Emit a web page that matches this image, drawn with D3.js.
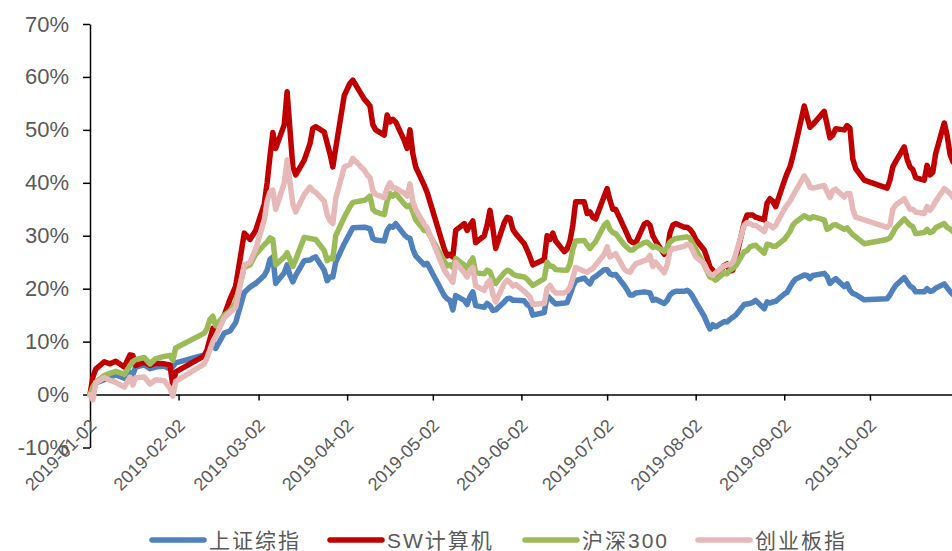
<!DOCTYPE html>
<html>
<head>
<meta charset="utf-8">
<script src="https://cdn.jsdelivr.net/npm/d3@7"></script>
<style>
  html, body { margin: 0; padding: 0; background: #fff; }
  svg { display: block; }
  text { font-family: "Liberation Sans", Arial, "Noto Sans CJK SC", sans-serif; fill: #595959; }
</style>
</head>
<body>
<svg id="chart" width="952" height="551"></svg>
<script>
// Trading days of 2019 (month-day), cumulative return in % since 2019-01-02
const dates = [
  "01-02","01-03","01-04","01-07","01-09","01-11","01-14","01-16","01-17","01-18","01-21","01-23","01-25","01-28","01-30","01-31",
  "02-01","02-11","02-12","02-13","02-14","02-15","02-18","02-20","02-22","02-25","02-27",
  "03-01","03-04","03-05","03-06","03-07","03-08","03-11","03-12","03-13","03-14","03-15","03-18","03-20","03-21","03-22","03-25","03-26","03-27","03-28","03-29",
  "04-01","04-03","04-04","04-08","04-09","04-10","04-11","04-12","04-15","04-16","04-17","04-18","04-19","04-22","04-23","04-24","04-25","04-26","04-29","04-30",
  "05-06","05-07","05-08","05-09","05-10","05-13","05-14","05-15","05-16","05-17","05-20","05-21","05-22","05-23","05-24","05-27","05-28","05-29","05-30","05-31",
  "06-03","06-04","06-05","06-06","06-10","06-11","06-12","06-13","06-14","06-17","06-18","06-19","06-20","06-21","06-24","06-25","06-26","06-27","06-28",
  "07-01","07-02","07-03","07-04","07-05","07-08","07-09","07-10","07-11","07-12","07-15","07-16","07-17","07-18","07-19","07-22","07-23","07-24","07-25","07-26","07-29","07-30","07-31",
  "08-01","08-02","08-05","08-06","08-07","08-08","08-09","08-12","08-13","08-14","08-15","08-16","08-19","08-20","08-21","08-22","08-23","08-26","08-27","08-28","08-29","08-30",
  "09-02","09-03","09-04","09-05","09-06","09-09","09-10","09-11","09-12","09-16","09-17","09-18","09-19","09-20","09-23","09-24","09-25","09-26","09-27","09-30",
  "10-08","10-09","10-10","10-11","10-14","10-15","10-16","10-17","10-18","10-21","10-22","10-23","10-24","10-25","10-28","10-29","10-30","10-31"
];

// 上证综指
const sseComposite = [
  0, 0.2, 2.2, 2.8, 3.3, 3.7, 3.1, 4.2, 3.8, 5.2, 5.6, 4.9, 5.2, 5.4, 4.8, 5.3,
  6.0, 7.5, 8.2, 10.2, 10.1, 8.7, 11.6, 12.0, 13.6, 19.3, 20.3,
  21.0, 22.5, 23.5, 25.5, 26.0, 21.0, 23.0, 24.5, 22.5, 21.3, 22.5, 25.3, 25.4, 25.8, 26.0, 23.5, 21.5, 22.2, 22.2, 25.0,
  28.5, 30.5, 31.5, 31.6, 31.5, 31.3, 29.5, 29.2, 29.0, 31.0, 31.8, 31.6, 32.3, 30.2, 29.7, 29.5, 27.5, 26.2, 24.5, 24.8,
  18.7, 18.1, 17.8, 16.0, 18.7, 17.8, 17.0, 18.5, 19.4, 16.8, 16.5, 17.2, 16.8, 15.9, 16.0, 17.5, 18.1, 18.2, 17.8, 17.8,
  17.7, 17.0, 16.6, 15.0, 15.5, 18.7, 18.2, 17.6, 17.1, 17.3, 17.4, 18.8, 20.4, 21.5, 22.0, 21.4, 20.9, 22.0, 22.3,
  23.6, 23.6, 22.8, 22.6, 22.7, 20.6, 19.8, 18.8, 18.8, 19.2, 19.4, 19.3, 19.2, 17.8, 18.0, 17.2, 17.8, 18.8, 19.3, 19.5, 19.5, 19.7, 19.3,
  18.5, 17.5, 14.8, 13.5, 12.4, 13.2, 12.8, 13.8, 13.7, 14.2, 14.6, 15.0, 17.0, 17.1, 17.2, 17.4, 17.8, 16.2, 17.5, 17.3, 17.5, 17.6,
  19.0, 19.3, 20.3, 21.2, 21.8, 22.6, 22.5, 21.9, 22.5, 22.9, 22.3, 21.0, 21.5, 21.9, 20.4, 20.9, 19.7, 19.1, 18.9, 17.9,
  18.1, 18.8, 19.8, 20.6, 22.1, 21.3, 20.5, 20.2, 19.4, 19.4, 20.0, 19.5, 19.6, 20.1, 20.9, 20.2, 19.5, 18.9
];

// SW计算机
const swComputer = [
  0, 3.3, 4.8, 6.2, 5.8, 6.3, 5.2, 7.5, 7.4, 5.5, 6.1, 5.5, 5.9, 5.8, 5.6, 1.6,
  4.3, 7.3, 8.5, 10.5, 12.5, 12.0, 15.0, 18.0, 20.5, 30.5, 29.3,
  31.0, 36.0, 40.0, 45.0, 49.5, 46.5, 51.0, 57.2, 50.0, 43.0, 41.5, 44.3, 47.4, 50.3, 50.6, 49.6, 47.5, 45.5, 43.0, 46.5,
  56.5, 58.8, 59.4, 55.8, 55.2, 54.5, 51.0, 50.0, 49.0, 52.8, 51.5, 52.0, 51.5, 48.0, 46.5, 50.0, 45.5, 43.0, 39.5, 38.2,
  27.5, 26.2, 26.5, 26.0, 31.0, 32.3, 31.0, 32.0, 32.8, 28.7, 30.0, 32.0, 34.8, 31.5, 27.6, 32.5, 33.5, 33.3, 31.2, 30.4,
  28.5, 27.3, 26.0, 24.5, 25.5, 30.0, 29.3, 30.5, 29.0, 27.0, 27.5, 29.0, 32.0, 36.4, 36.4, 34.2, 34.5, 33.5, 33.2,
  37.5, 38.9, 36.7, 35.0, 35.0, 31.5, 30.3, 29.1, 28.7, 28.6, 32.2, 32.5, 32.0, 30.0, 29.0, 26.5, 27.0, 30.5, 32.0, 32.3, 31.6, 31.6, 31.2,
  30.5, 29.3, 27.3, 25.8, 24.1, 23.5, 22.0, 24.4, 24.7, 23.3, 23.5, 25.5, 32.5, 33.9, 33.9, 33.9, 33.5, 33.0, 36.2, 37.0, 36.5, 35.5,
  40.3, 41.8, 43.0, 45.0, 47.3, 54.5, 52.5, 50.5, 51.0, 53.5, 51.0, 48.5, 49.0, 50.2, 50.0, 50.8, 50.3, 44.5, 42.7, 40.5,
  39.0, 40.5, 43.0, 44.0, 46.8, 44.5, 43.0, 42.5, 41.0, 40.5, 43.3, 41.5, 42.0, 45.5, 51.3, 49.0, 45.5, 44.0
];

// 沪深300
const csi300 = [
  0, 1.4, 2.3, 3.6, 4.0, 4.4, 3.8, 5.5, 6.2, 6.6, 7.0, 5.8, 6.8, 7.2, 7.4, 6.5,
  8.8, 11.6, 12.5, 14.2, 14.8, 13.0, 15.0, 15.8, 17.5, 24.0, 24.5,
  26.5, 28.3, 28.8, 29.6, 29.3, 24.5, 26.0, 26.8, 25.5, 24.2, 25.5, 29.7, 29.5, 29.4, 29.3, 27.2, 25.3, 25.8, 25.6, 30.0,
  33.5, 35.5, 36.3, 36.7, 37.0, 37.5, 35.0, 34.5, 34.0, 36.5, 38.0, 37.5, 38.0, 36.0, 35.5, 35.8, 34.5, 33.0, 31.0, 31.0,
  25.2, 24.3, 24.5, 24.0, 25.7, 24.5, 23.5, 25.0, 25.8, 23.0, 22.8, 23.5, 23.2, 21.8, 21.0, 23.0, 23.5, 23.3, 22.8, 22.5,
  22.2, 21.8, 21.2, 20.6, 21.9, 25.0, 24.3, 24.2, 23.6, 23.5, 23.5, 24.7, 27.5, 29.0, 29.1, 28.3, 27.6, 28.3, 28.9,
  32.0, 32.5, 31.2, 30.6, 30.4, 28.3, 27.8, 27.3, 27.3, 27.8, 28.7, 28.8, 28.3, 27.8, 28.0, 27.0, 27.8, 28.8, 29.2, 29.5, 29.7, 29.8, 29.5,
  28.5, 27.5, 24.5, 23.3, 22.2, 22.0, 21.6, 23.0, 22.8, 23.5, 23.8, 24.3, 27.0, 27.2, 27.9, 28.1, 28.2, 26.7, 28.4, 28.3, 28.0, 28.0,
  29.3, 30.0, 30.8, 32.0, 32.6, 33.8, 33.5, 33.2, 33.6, 33.0, 31.2, 31.5, 32.0, 32.1, 31.2, 31.5, 30.8, 30.2, 29.8, 28.5,
  29.3, 29.6, 30.5, 31.5, 33.2, 32.6, 32.0, 31.7, 30.4, 30.6, 31.2, 30.6, 30.8, 31.5, 32.3, 31.6, 31.3, 30.8
];

// 创业板指
const chinext = [
  0, -1.0, 2.2, 3.2, 2.7, 2.3, 1.4, 3.3, 1.8, 3.2, 3.3, 2.0, 2.8, 2.6, 1.2, -0.3,
  2.5, 5.8, 7.0, 8.5, 10.0, 11.0, 14.5, 15.5, 16.5, 24.5, 25.0,
  27.5, 33.0, 36.5, 38.3, 38.6, 35.0, 40.0, 44.3, 40.0, 36.0, 34.5, 37.8, 39.2, 38.5, 38.2, 36.5, 34.0, 32.8, 32.3, 37.0,
  43.0, 43.5, 44.6, 42.4, 41.5, 41.0, 38.5, 37.8, 37.2, 39.0, 40.0, 39.0, 39.0, 38.0, 37.5, 39.8, 36.5, 35.0, 32.2, 31.5,
  23.5, 22.7, 22.0, 21.2, 25.0, 23.0, 22.2, 23.5, 24.0, 20.5, 19.7, 21.0, 21.6, 19.0, 17.5, 21.0, 21.6, 21.2, 20.5, 20.8,
  19.5, 19.0, 18.4, 17.0, 17.2, 20.0, 20.6, 19.8, 19.2, 19.2, 19.5, 20.3, 22.0, 24.0, 23.3, 23.1, 23.5, 23.8, 24.5,
  26.5, 27.9, 26.0, 26.3, 26.6, 23.7, 23.3, 23.1, 24.0, 24.7, 25.3, 25.5, 26.3, 24.2, 25.0, 23.0, 24.5, 27.0, 27.6, 27.6, 28.0, 28.4, 28.2,
  27.2, 26.0, 24.7, 23.5, 22.8, 22.5, 23.0, 24.3, 24.5, 24.5, 25.0, 26.5, 32.0, 32.5, 32.3, 32.0, 32.0, 30.8, 32.3, 32.0, 31.5, 32.0,
  35.0, 35.8, 36.5, 37.5, 38.5, 41.3, 40.5, 39.2, 39.0, 39.5, 38.3, 37.2, 38.5, 38.8, 37.3, 38.0, 38.0, 35.0, 33.5, 33.0,
  31.6, 32.0, 35.0, 35.8, 37.0, 36.0, 35.0, 35.0, 34.5, 34.2, 35.5, 34.8, 35.5, 36.5, 38.9, 38.5, 38.0, 37.3
];

const seriesNames = ["上证综指", "SW计算机", "沪深300", "创业板指"];
const seriesColors = ["#4F81BD", "#C00000", "#9BBB59", "#E6B9B8"];
const seriesValues = [sseComposite, swComputer, csi300, chinext];

const yTickValues = [-10, 0, 10, 20, 30, 40, 50, 60, 70];
const xTickLabels = ["2019-01-02", "2019-02-02", "2019-03-02", "2019-04-02", "2019-05-02",
                     "2019-06-02", "2019-07-02", "2019-08-02", "2019-09-02", "2019-10-02"];

const parse = d3.timeParse("%Y-%m-%d");
const parsedDates = dates.map(d => parse("2019-" + d));

const svg = d3.select("#chart");
svg.append("rect").attr("width", 952).attr("height", 551).attr("fill", "#fff");

const x = d3.scaleTime()
  .domain([parse("2019-01-02"), parse("2019-10-31")])
  .range([90, 952.8]);
const y = d3.scaleLinear().domain([-10, 70]).range([447.5, 24]);

// Y axis
const gy = svg.append("g")
  .attr("transform", "translate(90,0)")
  .call(d3.axisLeft(y)
    .tickValues(yTickValues)
    .tickSize(7)
    .tickSizeOuter(0)
    .tickPadding(14)
    .tickFormat(d => d + "%"));
gy.select(".domain").attr("stroke", "#000").attr("stroke-width", 1.5);
gy.selectAll(".tick line").attr("stroke", "#000").attr("stroke-width", 1.5);
gy.selectAll(".tick text").style("font-size", "22px").attr("fill", "#595959");

// X axis along the 0% line
const gx = svg.append("g")
  .attr("transform", `translate(0,${y(0)})`)
  .call(d3.axisBottom(x)
    .tickValues(xTickLabels.map(parse))
    .tickSize(6)
    .tickSizeOuter(0)
    .tickFormat(d3.timeFormat("%Y-%m-%d")));
gx.select(".domain").attr("stroke", "#000").attr("stroke-width", 1.5);
gx.selectAll(".tick line").attr("stroke", "#000").attr("stroke-width", 1.5);
gx.selectAll(".tick text")
  .attr("y", null)
  .attr("dy", null)
  .attr("text-anchor", "end")
  .attr("transform", "translate(7,32) rotate(-45)")
  .style("font-size", "18px")
  .attr("fill", "#595959");

// Series lines
const line = d3.line()
  .x((d, i) => x(parsedDates[i]))
  .y(d => y(d));

seriesValues.forEach((vals, k) => {
  svg.append("path")
    .datum(vals)
    .attr("d", line)
    .attr("fill", "none")
    .attr("stroke", seriesColors[k])
    .attr("stroke-width", 5.5)
    .attr("stroke-linejoin", "round")
    .attr("stroke-linecap", "round");
});

// Legend
const legendX = [152, 330, 525, 698];
const legend = svg.append("g");
seriesNames.forEach((name, k) => {
  const g = legend.append("g").attr("transform", `translate(${legendX[k]},540)`);
  g.append("line")
    .attr("x1", 0).attr("x2", 52).attr("y1", 0).attr("y2", 0)
    .attr("stroke", seriesColors[k])
    .attr("stroke-width", 5.5)
    .attr("stroke-linecap", "round");
  g.append("text")
    .attr("x", 57).attr("y", 0).attr("dy", "0.36em")
    .style("font-size", "21px")
    .style("letter-spacing", "2px")
    .text(name);
});
</script>
</body>
</html>
